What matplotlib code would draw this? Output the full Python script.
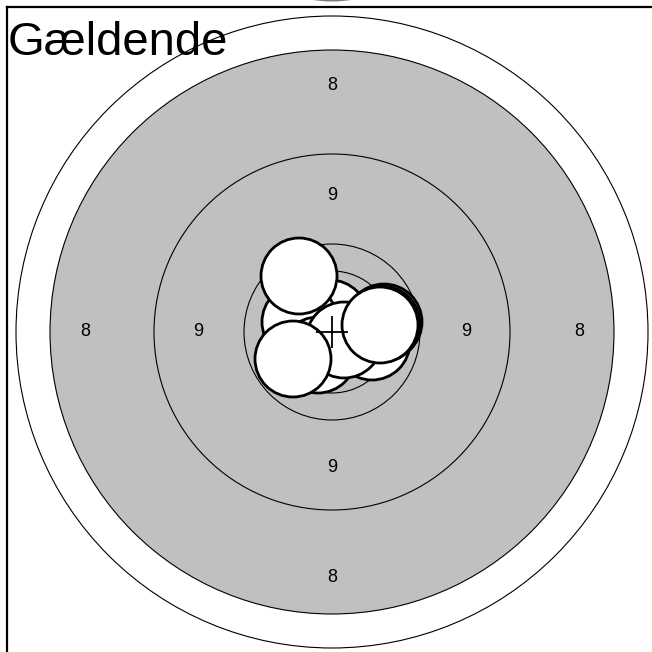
import matplotlib
matplotlib.use("Agg")
import matplotlib.pyplot as plt
from matplotlib.patches import Circle

plt.rcParams['font.family'] = ['Liberation Sans', 'DejaVu Sans']

title = "Gældende"

# ring radii (target units, centre = 0)
ring_radii = [316, 178, 88, 61]
black_radius = 282

# ring labels: value, x, y
label_values = ["8", "8", "8", "8", "9", "9", "9", "9"]
label_x = [0, 0, -247, 247, 0, 0, -134, 134]
label_y = [247, -246, 0, 0, 136, -135, 0, 0]

# shots (x, y) in target units, drawn back to front
shot_x = [-2, -32, -14, 40, 52, 50, 12, -33, -39, 48]
shot_y = [14, 10, -23, -10, 10, 8, -8, 56, -27, 7]
shot_radius = 38

# mean point of impact cross
mpi_x = [0]
mpi_y = [0]

fig = plt.figure(figsize=(6.52, 6.52), dpi=100)
ax = fig.add_axes([7 / 652, -5 / 652, 650 / 652, 650 / 652])
ax.set_xlim(-325, 325)
ax.set_ylim(-325, 325)
ax.set_aspect('equal')
ax.set_xticks([])
ax.set_yticks([])
for side in ['right', 'bottom']:
    ax.spines[side].set_visible(False)
for side in ['left', 'top']:
    ax.spines[side].set_linewidth(1.6)

ax.add_patch(Circle((0, 0), black_radius, facecolor='#c0c0c0', edgecolor='black', linewidth=0.8, zorder=1))
for r in ring_radii:
    ax.add_patch(Circle((0, 0), r, facecolor='none', edgecolor='black', linewidth=0.8, zorder=2))

for v, x, y in zip(label_values, label_x, label_y):
    ax.text(x, y, v, ha='center', va='center', fontsize=13, zorder=3)

for i, (x, y) in enumerate(zip(shot_x, shot_y)):
    ax.add_patch(Circle((x, y), shot_radius, facecolor='white', edgecolor='black', linewidth=2.0, zorder=4 + i * 0.01))

ax.plot(mpi_x, mpi_y, marker='+', markersize=23, markeredgewidth=1.3, color='black', linestyle='none', zorder=6)

ax.text(-324, 277, title, ha='left', va='baseline', fontsize=34, zorder=7)

# piece of the panel above peeking in at the very top
fig.patches.append(Circle((332 / 652, (652 + 118.5) / 652), 120 / 652, transform=fig.transFigure,
                          facecolor='#7a7a7a', edgecolor='none', figure=fig))

fig.savefig("out.png", dpi=100)
